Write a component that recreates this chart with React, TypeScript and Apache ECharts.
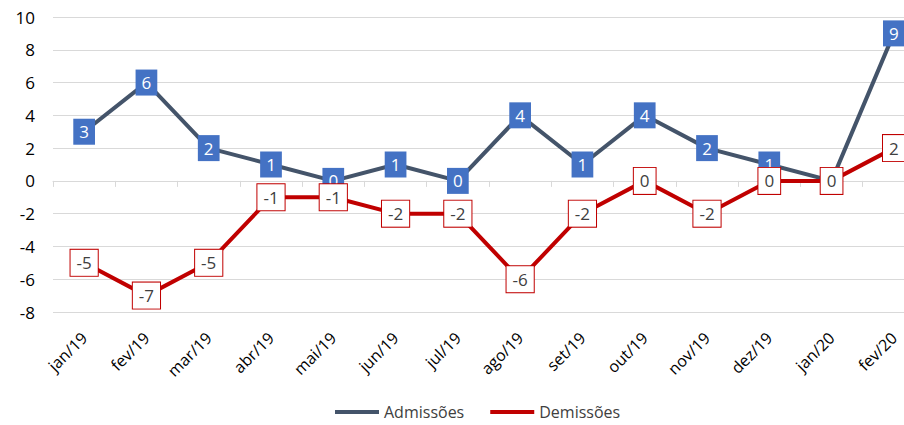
import React, { useEffect, useRef } from "react";
import * as echarts from "echarts";

const categories = ["jan/19", "fev/19", "mar/19", "abr/19", "mai/19", "jun/19", "jul/19", "ago/19", "set/19", "out/19", "nov/19", "dez/19", "jan/20", "fev/20"];
const admissoes = [3, 6, 2, 1, 0, 1, 0, 4, 1, 4, 2, 1, 0, 9];
const demissoes = [-5, -7, -5, -1, -1, -2, -2, -6, -2, 0, -2, 0, 0, 2];
const yTicks = { min: -8, max: 10, interval: 2 };

const FONT = "'Open Sans', 'Noto Sans', sans-serif";

export default function App() {
  const ref = useRef<HTMLDivElement>(null);
  useEffect(() => {
    if (!ref.current) return;
    const chart = echarts.init(ref.current, null, { renderer: "svg" });
    chart.setOption({
      animation: false,
      textStyle: { fontFamily: FONT },
      grid: { left: 53, top: 17, width: 872, height: 295, containLabel: false },
      legend: {
        bottom: 0,
        left: 330,
        itemWidth: 44,
        itemHeight: 4,
        itemGap: 26,
        icon: "rect",
        textStyle: { fontSize: 16, color: "#404040", fontFamily: FONT },
        data: [
          { name: "Admissões", itemStyle: { color: "#44546A" } },
          { name: "Demissões", itemStyle: { color: "#C00000" } },
        ],
      },
      xAxis: [
        {
          type: "category",
          data: categories,
          boundaryGap: true,
          axisLine: { onZero: true, lineStyle: { color: "#D9D9D9", width: 1 } },
          axisTick: { show: true, length: 6, lineStyle: { color: "#D9D9D9" } },
          axisLabel: { show: false },
        },
        {
          type: "category",
          data: categories,
          position: "bottom",
          boundaryGap: true,
          axisLine: { show: false, onZero: false },
          axisTick: { show: false },
          axisLabel: { rotate: 45, margin: 23, fontSize: 16, color: "#000000", fontFamily: FONT },
        },
      ],
      yAxis: {
        type: "value",
        min: yTicks.min,
        max: yTicks.max,
        interval: yTicks.interval,
        axisLine: { show: false },
        axisTick: { show: false },
        axisLabel: { margin: 18, fontSize: 17, color: "#000000", fontFamily: FONT },
        splitLine: { lineStyle: { color: "#D9D9D9", width: 1 } },
      },
      series: [
        {
          name: "Admissões",
          type: "line",
          data: admissoes,
          xAxisIndex: 0,
          symbol: "circle",
          symbolSize: 0.1,
          itemStyle: { color: "#44546A" },
          lineStyle: { color: "#44546A", width: 4 },
          z: 2,
          label: {
            show: true,
            position: "inside",
            color: "#FFFFFF",
            fontSize: 17,
            fontFamily: FONT,
            backgroundColor: "#4472C4",
            padding: [5, 6, 4, 6],
          },
        },
        {
          name: "Demissões",
          type: "line",
          data: demissoes,
          xAxisIndex: 0,
          symbol: "circle",
          symbolSize: 0.1,
          itemStyle: { color: "#C00000" },
          lineStyle: { color: "#C00000", width: 4 },
          z: 3,
          label: {
            show: true,
            position: "inside",
            color: "#404040",
            fontSize: 17,
            fontFamily: FONT,
            backgroundColor: "#FFFFFF",
            borderColor: "#C00000",
            borderWidth: 1,
            padding: [5, 6, 4, 6],
          },
        },
      ],
    });
    return () => chart.dispose();
  }, []);
  return (
    <div style={{ width: 904, height: 425, position: "absolute", left: 0, top: 0, overflow: "hidden" }}>
      <div ref={ref} style={{ width: 930, height: 425 }} />
    </div>
  );
}
